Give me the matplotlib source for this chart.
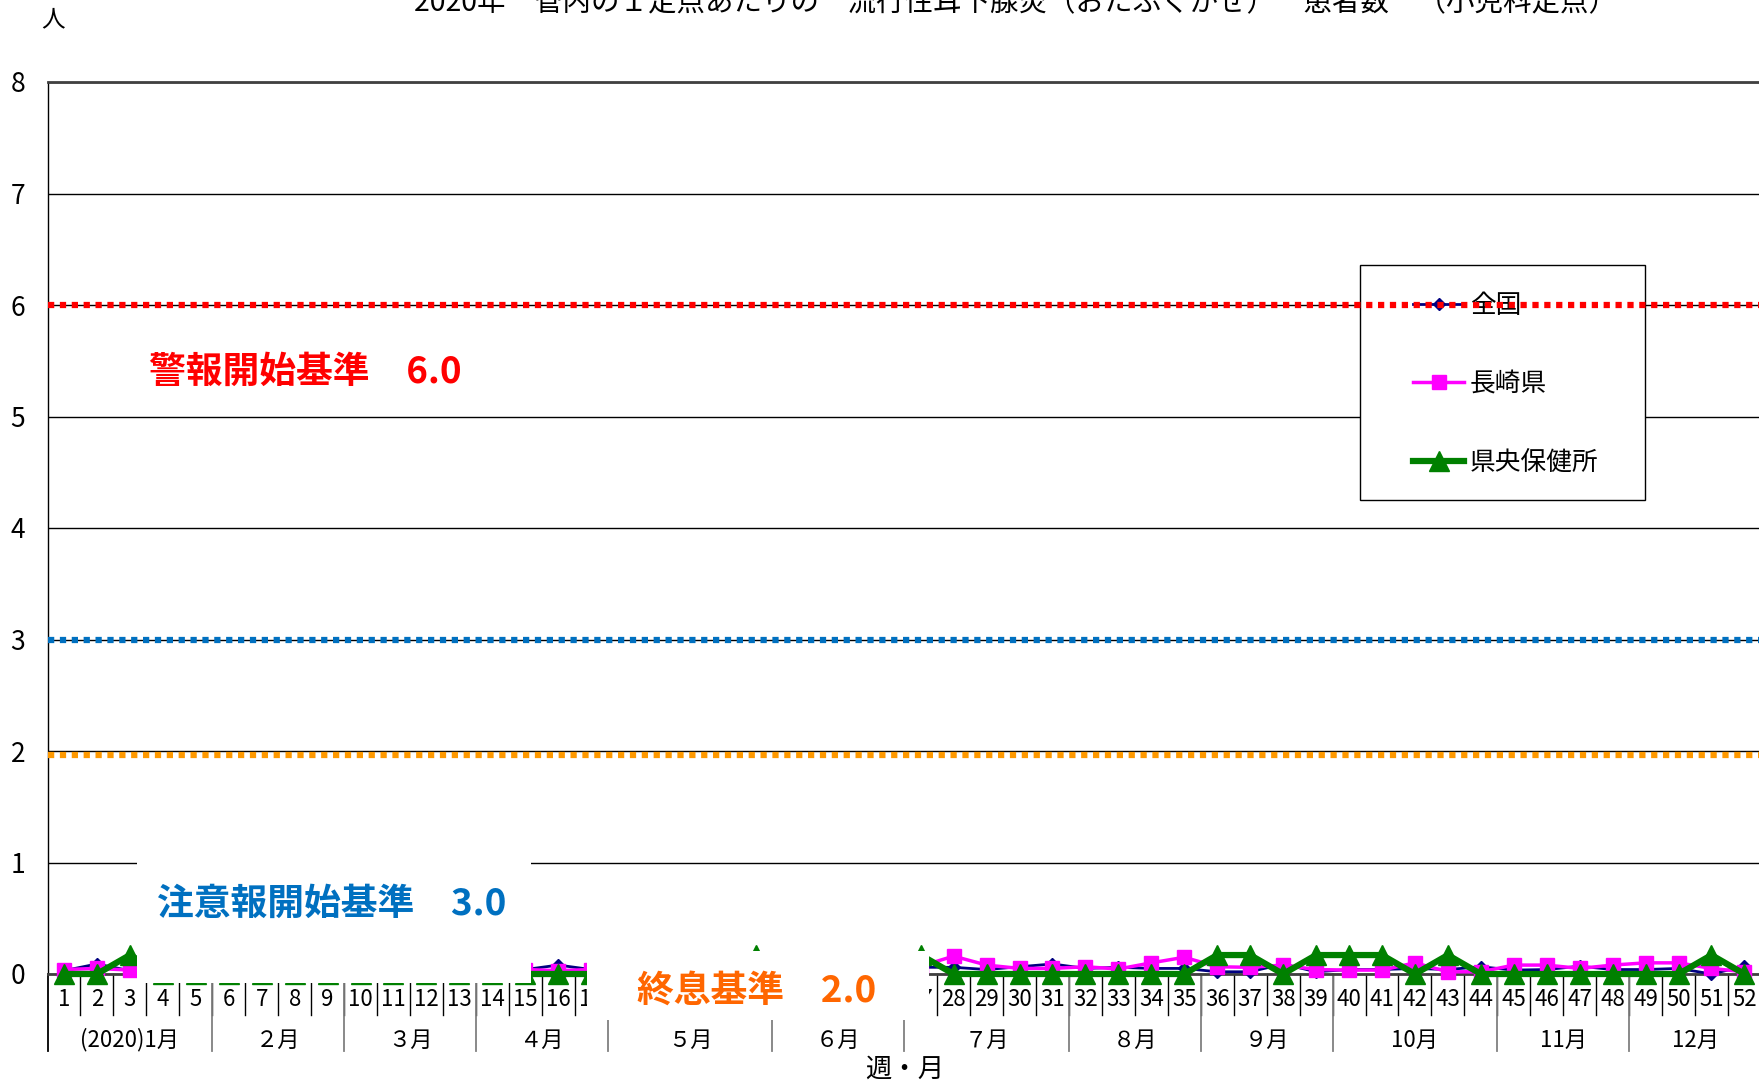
import numpy as np
import matplotlib
matplotlib.use("Agg")
import matplotlib.pyplot as plt
from matplotlib.patches import Rectangle
from matplotlib.transforms import blended_transform_factory

plt.rcParams['font.family'] = ['Noto Sans CJK JP', 'DejaVu Sans']

# ---- data ----
weeks = list(range(1, 53))

# 全国
national = [0.03, 0.09, 0.03, 0.04, 0.04, 0.04, 0.04, 0.04, 0.04, 0.04,
            0.04, 0.04, 0.04, 0.04, 0.04, 0.08, 0.04, 0.03, 0.03, 0.03,
            0.03, 0.03, 0.03, 0.03, 0.03, 0.03, 0.06, 0.06, 0.04, 0.065,
            0.09, 0.05, 0.06, 0.05, 0.05, 0.02, 0.02, 0.09, 0.02, 0.04,
            0.04, 0.05, 0.04, 0.065, 0.035, 0.04, 0.07, 0.04, 0.04, 0.05,
            0.0, 0.07]
# 長崎県
nagasaki = [0.04, 0.05, 0.035, 0.03, 0.03, 0.03, 0.03, 0.03, 0.03, 0.03,
            0.03, 0.03, 0.03, 0.03, 0.04, 0.03, 0.04, 0.02, 0.02, 0.02,
            0.02, 0.02, 0.02, 0.02, 0.02, 0.02, 0.07, 0.16, 0.08, 0.05,
            0.05, 0.065, 0.045, 0.10, 0.15, 0.065, 0.06, 0.08, 0.04, 0.035,
            0.035, 0.10, 0.02, 0.02, 0.08, 0.08, 0.05, 0.08, 0.10, 0.10,
            0.05, 0.02]
# 県央保健所
kenou = [0.0, 0.0, 0.17, 0.0, 0.0, 0.0, 0.0, 0.0, 0.0, 0.0,
         0.0, 0.0, 0.0, 0.0, 0.0, 0.0, 0.0, 0.0, 0.0, 0.0,
         0.0, 0.17, 0.0, 0.0, 0.0, 0.0, 0.17, 0.0, 0.0, 0.0,
         0.0, 0.0, 0.0, 0.0, 0.0, 0.17, 0.17, 0.0, 0.17, 0.17,
         0.17, 0.0, 0.17, 0.0, 0.0, 0.0, 0.0, 0.0, 0.0, 0.0,
         0.17, 0.0]

month_labels = ['(2020)1月', '２月', '３月', '４月', '５月', '６月',
                '７月', '８月', '９月', '10月', '11月', '12月']
month_weeks = [5, 4, 4, 4, 5, 4, 5, 4, 4, 5, 4, 4]

# week labels hidden under the 終息基準 label box
hidden_weeks = list(range(18, 27))

alarm_level = 6.0      # 警報開始基準
warning_level = 3.0    # 注意報開始基準
end_level = 2.0        # 終息基準

title = '2020年　管内の１定点あたりの　流行性耳下腺炎（おたふくかぜ）　患者数　（小児科定点）'

# ---- figure ----
W, H = 1759, 1086
fig = plt.figure(figsize=(W / 100, H / 100), dpi=100)
ax = fig.add_axes([47.5 / W, 1 - 974 / H, (W - 47.5) / W, 892 / H])
ax.set_xlim(0.5, 0.5 + (W - 47.5) / 32.95)
ax.set_ylim(0, 8)
ax.set_axisbelow(True)

ax.set_yticks(range(0, 9))
ax.tick_params(axis='y', length=0, pad=16, labelsize=19)
ax.set_xticks([])
ax.yaxis.grid(True, color='black', lw=1)
ax.spines['right'].set_visible(False)
ax.spines['top'].set_color('#404040')
ax.spines['top'].set_linewidth(2)
ax.spines['bottom'].set_color('#404040')
ax.spines['bottom'].set_linewidth(2)
ax.spines['left'].set_linewidth(1)

# series
ax.plot(weeks, national, color='#000080', lw=2, marker='D', ms=6,
        label='全国', zorder=3, clip_on=False)
ax.plot(weeks, nagasaki, color='#FF00FF', lw=2.5, marker='s', ms=9.5,
        label='長崎県', zorder=3, clip_on=False)
ax.plot(weeks, kenou, color='#008000', lw=4.5, marker='^', ms=14,
        label='県央保健所', zorder=3, clip_on=False)

# threshold lines
dots = (0, (1, 0.9))
ax.axhline(alarm_level, color='#FF0000', lw=4.5, ls=dots, zorder=6)
ax.axhline(warning_level, color='#0070C0', lw=4.5, ls=dots, zorder=6)
ax.axhline(end_level - 0.04, color='#FF9900', lw=4.5, ls=dots, zorder=6)

trans = ax.get_xaxis_transform()

# week numbers and separators
for w in weeks:
    if w in hidden_weeks:
        continue
    ax.text(w, -0.029, str(w), transform=trans, ha='center', va='center',
            fontsize=16, zorder=3)
for b in np.arange(1.5, 52.5, 1):
    ax.plot([b, b], [0, -0.046], transform=trans, color='black', lw=1,
            clip_on=False, zorder=2)

bounds = np.concatenate([[0], np.cumsum(month_weeks)]) + 0.5
for b in bounds:
    ax.plot([b, b], [0, -0.086], transform=trans,
            color='black' if b == 0.5 else '#808080', lw=1.3,
            clip_on=False, zorder=2)
for lab, a, b in zip(month_labels, bounds[:-1], bounds[1:]):
    ax.text((a + b) / 2, -0.074, lab, transform=trans, ha='center',
            va='center', fontsize=16, zorder=3)

# white label boxes that cover part of the chart
ax.add_patch(Rectangle((3.22, -0.010), 11.95, 0.18, transform=trans,
                       facecolor='white', edgecolor='none', zorder=4,
                       clip_on=False))
ax.add_patch(Rectangle((16.87, -0.052), 10.38, 0.078, transform=trans,
                       facecolor='white', edgecolor='none', zorder=4,
                       clip_on=False))

ax.text(3.58, 5.40, '警報開始基準　%.1f' % alarm_level, color='#FF0000',
        fontsize=26.5, fontweight='bold', va='center', ha='left', zorder=7)
ax.text(3.82, 0.625, '注意報開始基準　%.1f' % warning_level, color='#0070C0',
        fontsize=26.5, fontweight='bold', va='center', ha='left', zorder=7)
ax.text(18.39, -0.019, '終息基準　%.1f' % end_level, color='#FF6600',
        transform=trans, fontsize=26.5, fontweight='bold', va='center',
        ha='left', zorder=7, clip_on=False)

# legend frame drawn separately (wider than the legend padding allows)
ax.add_patch(Rectangle(((1360 - 47.5) / 1711.5, (974 - 500) / 892),
                       285 / 1711.5, 235 / 892, transform=ax.transAxes,
                       facecolor='white', edgecolor='black', lw=1,
                       zorder=4.9))
leg = ax.legend(loc='center', bbox_to_anchor=(0.852, 0.661), fontsize=18.5,
                frameon=False, borderpad=1.0, labelspacing=2.05,
                handlelength=2.0, handletextpad=0.2)
leg.set_zorder(5)

fig.text(1016 / W, 1 - 3 / H, title, ha='center', va='center', fontsize=20.5)
fig.text(53 / W, 1 - 20 / H, '人', ha='center', va='center', fontsize=17)
fig.text(905 / W, 1 - 1069 / H, '週・月', ha='center', va='center', fontsize=19)

fig.savefig('out.png', dpi=100)
